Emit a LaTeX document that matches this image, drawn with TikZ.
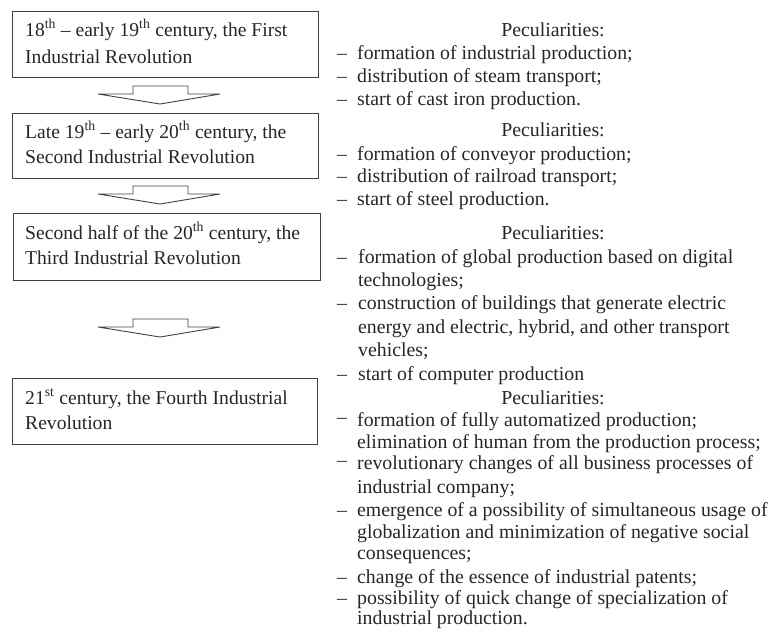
\documentclass[tikz,border=0pt]{standalone}
\usepackage{fontspec}
\setmainfont{Liberation Serif}
\begin{document}
\begin{tikzpicture}[x=1pt,y=-1pt,
  box/.style={draw=black!75,line width=1pt,rectangle,inner sep=0pt},
  btxt/.style={anchor=base west,inner sep=0pt,font=\fontsize{19.6}{25}\selectfont,text=black!85},
  rtxt/.style={anchor=base west,inner sep=0pt,font=\fontsize{19.8}{23}\selectfont,text=black!85},
  dsh/.style={anchor=base west,inner sep=0pt,font=\fontsize{19.8}{23}\selectfont,text=black!80},
  pec/.style={anchor=base,inner sep=0pt,font=\fontsize{19.8}{23}\selectfont,text=black!85},
  barrow/.style={draw=black!75,line width=0.9pt,line join=miter}]
\useasboundingbox (0,0) rectangle (771,641);
% boxes
\node[box,minimum width=306,minimum height=66] (b1) at (165,44) {};
\node[box,minimum width=306,minimum height=65] (b2) at (165,145.5) {};
\node[box,minimum width=307,minimum height=67] (b3) at (166.5,246.5) {};
\node[box,minimum width=305,minimum height=66] (b4) at (164.5,411) {};
% box texts
\node[btxt] (b1a) at (25,36) {18\textsuperscript{th} -- early 19\textsuperscript{th} century, the First};
\node[btxt] (b1b) at (25,63) {Industrial Revolution};
\node[btxt] (b2a) at (25,138) {Late 19\textsuperscript{th} -- early 20\textsuperscript{th} century, the};
\node[btxt] (b2b) at (25,163) {Second Industrial Revolution};
\node[btxt] (b3a) at (25,239) {Second half of the 20\textsuperscript{th} century, the};
\node[btxt] (b3b) at (25,264) {Third Industrial Revolution};
\node[btxt] (b4a) at (25,404) {21\textsuperscript{st} century, the Fourth Industrial};
\node[btxt] (b4b) at (25,429) {Revolution};
% block arrows
\foreach \t in {86,186,319}{
  \draw[barrow] (133,\t) -- (188,\t) -- (188,\t+8) -- (220,\t+8) -- (160,\t+18) -- (98,\t+8) -- (133,\t+8) -- cycle;
}
% group 1
\node[pec] (p1) at (553,36) {Peculiarities:};
\node[dsh] (d11) at (337,59) {--};
\node[rtxt] (t11) at (357,59) {formation of industrial production;};
\node[dsh] (d12) at (337,82) {--};
\node[rtxt] (t12) at (357,82) {distribution of steam transport;};
\node[dsh] (d13) at (337,105) {--};
\node[rtxt] (t13) at (357,105) {start of cast iron production.};
% group 2
\node[pec] (p2) at (553,136) {Peculiarities:};
\node[dsh] (d21) at (337,160) {--};
\node[rtxt] (t21) at (357,160) {formation of conveyor production;};
\node[dsh] (d22) at (337,182) {--};
\node[rtxt] (t22) at (357,182) {distribution of railroad transport;};
\node[dsh] (d23) at (337,205) {--};
\node[rtxt] (t23) at (357,205) {start of steel production.};
% group 3
\node[pec] (p3) at (553,239) {Peculiarities:};
\node[dsh] (d31) at (337,263) {--};
\node[rtxt] (t31) at (358,263) {formation of global production based on digital};
\node[rtxt] (t31b) at (358,286) {technologies;};
\node[dsh] (d32) at (337,309) {--};
\node[rtxt] (t32) at (358,309) {construction of buildings that generate electric};
\node[rtxt] (t32b) at (358,333) {energy and electric, hybrid, and other transport};
\node[rtxt] (t32c) at (358,356) {vehicles;};
\node[dsh] (d33) at (337,380) {--};
\node[rtxt] (t33) at (358,380) {start of computer production};
% group 4
\node[pec] (p4) at (553,404) {Peculiarities:};
\node[dsh] (d41) at (337,423) {--};
\node[rtxt] (t41) at (357,426) {formation of fully automatized production;};
\node[rtxt] (t41b) at (357,448) {elimination of human from the production process;};
\node[dsh] (d42) at (337,466) {--};
\node[rtxt] (t42) at (357,469) {revolutionary changes of all business processes of};
\node[rtxt] (t42b) at (357,493) {industrial company;};
\node[dsh] (d43) at (337,516) {--};
\node[rtxt] (t43) at (357,516) {emergence of a possibility of simultaneous usage of};
\node[rtxt] (t43b) at (357,538) {globalization and minimization of negative social};
\node[rtxt] (t43c) at (357,559) {consequences;};
\node[dsh] (d44) at (337,583) {--};
\node[rtxt] (t44) at (357,583) {change of the essence of industrial patents;};
\node[dsh] (d45) at (337,604) {--};
\node[rtxt] (t45) at (357,604) {possibility of quick change of specialization of};
\node[rtxt] (t45b) at (357,624) {industrial production.};
\end{tikzpicture}
\end{document}
